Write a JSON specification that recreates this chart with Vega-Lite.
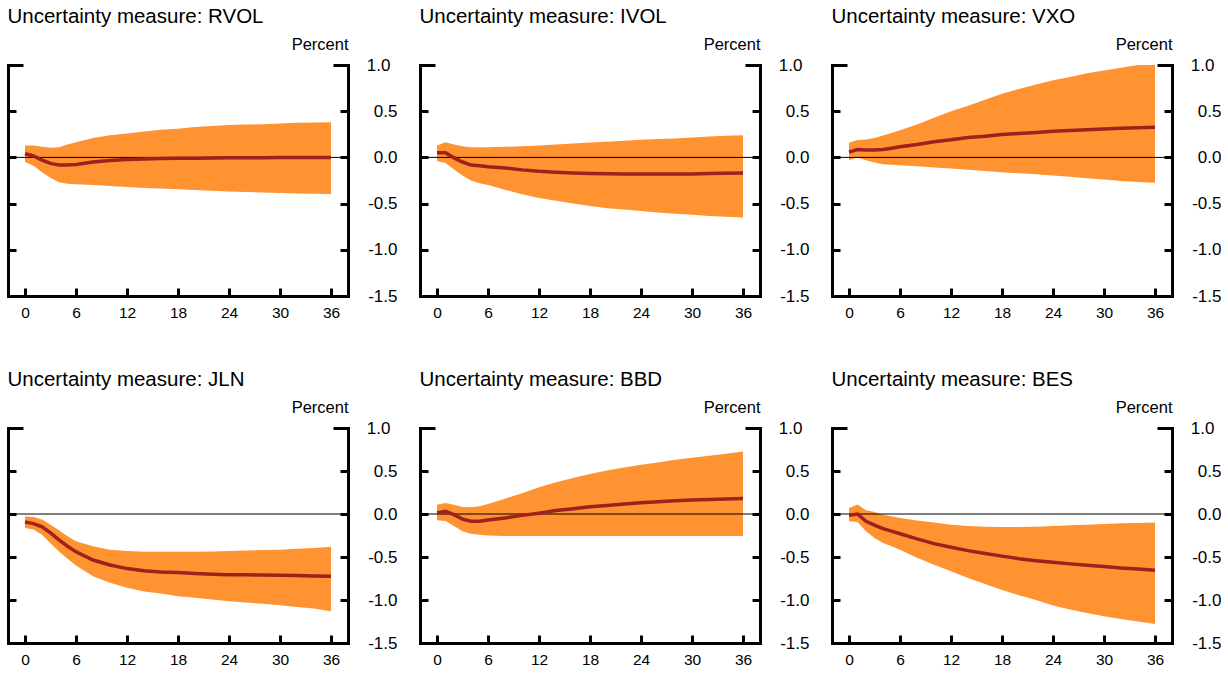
{
  "$schema": "https://vega.github.io/schema/vega-lite/v6.json",
  "padding": {"left": 6, "top": 6, "right": 0, "bottom": 0},
  "background": "white",
  "data": {"name": "irf"},
  "datasets": {
    "irf": [
      {"p": "RVOL", "m": 0, "mean": 0.04, "lo": -0.05, "hi": 0.13},
      {"p": "RVOL", "m": 1, "mean": 0.015, "lo": -0.09, "hi": 0.13},
      {"p": "RVOL", "m": 2, "mean": -0.03, "lo": -0.16, "hi": 0.115},
      {"p": "RVOL", "m": 3, "mean": -0.065, "lo": -0.22, "hi": 0.105},
      {"p": "RVOL", "m": 4, "mean": -0.083, "lo": -0.27, "hi": 0.11},
      {"p": "RVOL", "m": 5, "mean": -0.083, "lo": -0.285, "hi": 0.14},
      {"p": "RVOL", "m": 6, "mean": -0.076, "lo": -0.29, "hi": 0.165},
      {"p": "RVOL", "m": 8, "mean": -0.05, "lo": -0.3, "hi": 0.21},
      {"p": "RVOL", "m": 10, "mean": -0.033, "lo": -0.31, "hi": 0.24},
      {"p": "RVOL", "m": 12, "mean": -0.022, "lo": -0.32, "hi": 0.26},
      {"p": "RVOL", "m": 14, "mean": -0.016, "lo": -0.33, "hi": 0.28},
      {"p": "RVOL", "m": 16, "mean": -0.012, "lo": -0.337, "hi": 0.3},
      {"p": "RVOL", "m": 18, "mean": -0.01, "lo": -0.345, "hi": 0.31},
      {"p": "RVOL", "m": 20, "mean": -0.008, "lo": -0.352, "hi": 0.33},
      {"p": "RVOL", "m": 22, "mean": -0.006, "lo": -0.36, "hi": 0.34},
      {"p": "RVOL", "m": 24, "mean": -0.005, "lo": -0.37, "hi": 0.35},
      {"p": "RVOL", "m": 26, "mean": -0.004, "lo": -0.375, "hi": 0.355},
      {"p": "RVOL", "m": 28, "mean": -0.003, "lo": -0.38, "hi": 0.36},
      {"p": "RVOL", "m": 30, "mean": -0.002, "lo": -0.385, "hi": 0.368},
      {"p": "RVOL", "m": 32, "mean": -0.001, "lo": -0.39, "hi": 0.375},
      {"p": "RVOL", "m": 34, "mean": 0.0, "lo": -0.393, "hi": 0.378},
      {"p": "RVOL", "m": 36, "mean": 0.0, "lo": -0.395, "hi": 0.38},

      {"p": "IVOL", "m": 0, "mean": 0.05, "lo": -0.04, "hi": 0.13},
      {"p": "IVOL", "m": 1, "mean": 0.05, "lo": -0.06, "hi": 0.165},
      {"p": "IVOL", "m": 2, "mean": -0.005, "lo": -0.13, "hi": 0.14},
      {"p": "IVOL", "m": 3, "mean": -0.05, "lo": -0.195, "hi": 0.12},
      {"p": "IVOL", "m": 4, "mean": -0.083, "lo": -0.25, "hi": 0.11},
      {"p": "IVOL", "m": 5, "mean": -0.09, "lo": -0.28, "hi": 0.11},
      {"p": "IVOL", "m": 6, "mean": -0.1, "lo": -0.3, "hi": 0.11},
      {"p": "IVOL", "m": 8, "mean": -0.115, "lo": -0.35, "hi": 0.115},
      {"p": "IVOL", "m": 10, "mean": -0.135, "lo": -0.4, "hi": 0.12},
      {"p": "IVOL", "m": 12, "mean": -0.15, "lo": -0.44, "hi": 0.13},
      {"p": "IVOL", "m": 14, "mean": -0.16, "lo": -0.47, "hi": 0.14},
      {"p": "IVOL", "m": 16, "mean": -0.168, "lo": -0.5, "hi": 0.15},
      {"p": "IVOL", "m": 18, "mean": -0.175, "lo": -0.525, "hi": 0.16},
      {"p": "IVOL", "m": 20, "mean": -0.178, "lo": -0.55, "hi": 0.17},
      {"p": "IVOL", "m": 22, "mean": -0.18, "lo": -0.565, "hi": 0.18},
      {"p": "IVOL", "m": 24, "mean": -0.18, "lo": -0.58, "hi": 0.19},
      {"p": "IVOL", "m": 26, "mean": -0.18, "lo": -0.595, "hi": 0.2},
      {"p": "IVOL", "m": 28, "mean": -0.18, "lo": -0.61, "hi": 0.205},
      {"p": "IVOL", "m": 30, "mean": -0.18, "lo": -0.62, "hi": 0.215},
      {"p": "IVOL", "m": 32, "mean": -0.175, "lo": -0.635, "hi": 0.225},
      {"p": "IVOL", "m": 34, "mean": -0.172, "lo": -0.643, "hi": 0.233},
      {"p": "IVOL", "m": 36, "mean": -0.17, "lo": -0.65, "hi": 0.24},

      {"p": "VXO", "m": 0, "mean": 0.057, "lo": -0.03, "hi": 0.158},
      {"p": "VXO", "m": 1, "mean": 0.085, "lo": 0.0, "hi": 0.187},
      {"p": "VXO", "m": 2, "mean": 0.08, "lo": -0.03, "hi": 0.195},
      {"p": "VXO", "m": 3, "mean": 0.08, "lo": -0.055, "hi": 0.21},
      {"p": "VXO", "m": 4, "mean": 0.085, "lo": -0.075, "hi": 0.237},
      {"p": "VXO", "m": 5, "mean": 0.1, "lo": -0.08, "hi": 0.265},
      {"p": "VXO", "m": 6, "mean": 0.115, "lo": -0.085, "hi": 0.295},
      {"p": "VXO", "m": 8, "mean": 0.14, "lo": -0.095, "hi": 0.355},
      {"p": "VXO", "m": 10, "mean": 0.17, "lo": -0.108, "hi": 0.43},
      {"p": "VXO", "m": 12, "mean": 0.19, "lo": -0.12, "hi": 0.5},
      {"p": "VXO", "m": 14, "mean": 0.215, "lo": -0.133, "hi": 0.56},
      {"p": "VXO", "m": 16, "mean": 0.23, "lo": -0.147, "hi": 0.625},
      {"p": "VXO", "m": 18, "mean": 0.247, "lo": -0.16, "hi": 0.69},
      {"p": "VXO", "m": 20, "mean": 0.258, "lo": -0.172, "hi": 0.74},
      {"p": "VXO", "m": 22, "mean": 0.27, "lo": -0.183, "hi": 0.79},
      {"p": "VXO", "m": 24, "mean": 0.283, "lo": -0.195, "hi": 0.835},
      {"p": "VXO", "m": 26, "mean": 0.29, "lo": -0.21, "hi": 0.87},
      {"p": "VXO", "m": 28, "mean": 0.3, "lo": -0.225, "hi": 0.91},
      {"p": "VXO", "m": 30, "mean": 0.308, "lo": -0.24, "hi": 0.94},
      {"p": "VXO", "m": 32, "mean": 0.315, "lo": -0.255, "hi": 0.97},
      {"p": "VXO", "m": 34, "mean": 0.32, "lo": -0.265, "hi": 1.0},
      {"p": "VXO", "m": 36, "mean": 0.325, "lo": -0.275, "hi": 1.0},

      {"p": "JLN", "m": 0, "mean": -0.093, "lo": -0.163, "hi": -0.03},
      {"p": "JLN", "m": 1, "mean": -0.112, "lo": -0.18, "hi": -0.035},
      {"p": "JLN", "m": 2, "mean": -0.15, "lo": -0.24, "hi": -0.065},
      {"p": "JLN", "m": 3, "mean": -0.22, "lo": -0.34, "hi": -0.125},
      {"p": "JLN", "m": 4, "mean": -0.3, "lo": -0.435, "hi": -0.19},
      {"p": "JLN", "m": 5, "mean": -0.375, "lo": -0.52, "hi": -0.26},
      {"p": "JLN", "m": 6, "mean": -0.44, "lo": -0.6, "hi": -0.317},
      {"p": "JLN", "m": 8, "mean": -0.535, "lo": -0.725, "hi": -0.375},
      {"p": "JLN", "m": 10, "mean": -0.593, "lo": -0.8, "hi": -0.415},
      {"p": "JLN", "m": 12, "mean": -0.635, "lo": -0.858, "hi": -0.43},
      {"p": "JLN", "m": 14, "mean": -0.66, "lo": -0.9, "hi": -0.44},
      {"p": "JLN", "m": 16, "mean": -0.675, "lo": -0.925, "hi": -0.44},
      {"p": "JLN", "m": 18, "mean": -0.68, "lo": -0.955, "hi": -0.44},
      {"p": "JLN", "m": 20, "mean": -0.692, "lo": -0.975, "hi": -0.44},
      {"p": "JLN", "m": 22, "mean": -0.7, "lo": -0.995, "hi": -0.435},
      {"p": "JLN", "m": 24, "mean": -0.705, "lo": -1.015, "hi": -0.43},
      {"p": "JLN", "m": 26, "mean": -0.707, "lo": -1.03, "hi": -0.425},
      {"p": "JLN", "m": 28, "mean": -0.71, "lo": -1.045, "hi": -0.42},
      {"p": "JLN", "m": 30, "mean": -0.712, "lo": -1.06, "hi": -0.415},
      {"p": "JLN", "m": 32, "mean": -0.715, "lo": -1.08, "hi": -0.405},
      {"p": "JLN", "m": 34, "mean": -0.72, "lo": -1.1, "hi": -0.395},
      {"p": "JLN", "m": 36, "mean": -0.725, "lo": -1.13, "hi": -0.38},

      {"p": "BBD", "m": 0, "mean": 0.012, "lo": -0.073, "hi": 0.108},
      {"p": "BBD", "m": 1, "mean": 0.031, "lo": -0.08, "hi": 0.128},
      {"p": "BBD", "m": 2, "mean": -0.008, "lo": -0.14, "hi": 0.108},
      {"p": "BBD", "m": 3, "mean": -0.06, "lo": -0.2, "hi": 0.08},
      {"p": "BBD", "m": 4, "mean": -0.085, "lo": -0.23, "hi": 0.078},
      {"p": "BBD", "m": 5, "mean": -0.085, "lo": -0.24, "hi": 0.09},
      {"p": "BBD", "m": 6, "mean": -0.07, "lo": -0.25, "hi": 0.116},
      {"p": "BBD", "m": 8, "mean": -0.047, "lo": -0.257, "hi": 0.178},
      {"p": "BBD", "m": 10, "mean": -0.016, "lo": -0.257, "hi": 0.24},
      {"p": "BBD", "m": 12, "mean": 0.01, "lo": -0.257, "hi": 0.31},
      {"p": "BBD", "m": 14, "mean": 0.04, "lo": -0.257, "hi": 0.37},
      {"p": "BBD", "m": 16, "mean": 0.062, "lo": -0.257, "hi": 0.418},
      {"p": "BBD", "m": 18, "mean": 0.085, "lo": -0.257, "hi": 0.465},
      {"p": "BBD", "m": 20, "mean": 0.1, "lo": -0.257, "hi": 0.507},
      {"p": "BBD", "m": 22, "mean": 0.115, "lo": -0.257, "hi": 0.54},
      {"p": "BBD", "m": 24, "mean": 0.13, "lo": -0.257, "hi": 0.573},
      {"p": "BBD", "m": 26, "mean": 0.143, "lo": -0.257, "hi": 0.6},
      {"p": "BBD", "m": 28, "mean": 0.155, "lo": -0.257, "hi": 0.63},
      {"p": "BBD", "m": 30, "mean": 0.163, "lo": -0.257, "hi": 0.655},
      {"p": "BBD", "m": 32, "mean": 0.17, "lo": -0.257, "hi": 0.677},
      {"p": "BBD", "m": 34, "mean": 0.175, "lo": -0.257, "hi": 0.7},
      {"p": "BBD", "m": 36, "mean": 0.18, "lo": -0.257, "hi": 0.727},

      {"p": "BES", "m": 0, "mean": -0.015, "lo": -0.085, "hi": 0.07},
      {"p": "BES", "m": 1, "mean": 0.0, "lo": -0.093, "hi": 0.11},
      {"p": "BES", "m": 2, "mean": -0.085, "lo": -0.2, "hi": 0.043},
      {"p": "BES", "m": 3, "mean": -0.13, "lo": -0.28, "hi": 0.024},
      {"p": "BES", "m": 4, "mean": -0.17, "lo": -0.337, "hi": -0.008},
      {"p": "BES", "m": 5, "mean": -0.2, "lo": -0.376, "hi": -0.027},
      {"p": "BES", "m": 6, "mean": -0.23, "lo": -0.415, "hi": -0.046},
      {"p": "BES", "m": 8, "mean": -0.29, "lo": -0.51, "hi": -0.077},
      {"p": "BES", "m": 10, "mean": -0.345, "lo": -0.59, "hi": -0.1},
      {"p": "BES", "m": 12, "mean": -0.387, "lo": -0.667, "hi": -0.124},
      {"p": "BES", "m": 14, "mean": -0.426, "lo": -0.744, "hi": -0.139},
      {"p": "BES", "m": 16, "mean": -0.46, "lo": -0.814, "hi": -0.147},
      {"p": "BES", "m": 18, "mean": -0.49, "lo": -0.884, "hi": -0.15},
      {"p": "BES", "m": 20, "mean": -0.52, "lo": -0.946, "hi": -0.15},
      {"p": "BES", "m": 22, "mean": -0.543, "lo": -1.0, "hi": -0.148},
      {"p": "BES", "m": 24, "mean": -0.562, "lo": -1.065, "hi": -0.139},
      {"p": "BES", "m": 26, "mean": -0.58, "lo": -1.11, "hi": -0.132},
      {"p": "BES", "m": 28, "mean": -0.597, "lo": -1.15, "hi": -0.124},
      {"p": "BES", "m": 30, "mean": -0.61, "lo": -1.19, "hi": -0.116},
      {"p": "BES", "m": 32, "mean": -0.628, "lo": -1.22, "hi": -0.108},
      {"p": "BES", "m": 34, "mean": -0.64, "lo": -1.25, "hi": -0.104},
      {"p": "BES", "m": 36, "mean": -0.655, "lo": -1.28, "hi": -0.1}
    ]
  },
  "spacing": 48,
  "vconcat": [
    {
      "spacing": 21,
      "hconcat": [
        {
          "title": "Uncertainty measure: RVOL",
          "width": 340, "height": 231,
          "transform": [{"filter": "datum.p == 'RVOL'"}],
          "layer": [
            {"mark": {"type": "area", "color": "#FF9331", "opacity": 1},
             "encoding": {
               "x": {"field": "m", "type": "quantitative", "scale": {"domain": [-2, 38], "nice": false},
                     "axis": {"values": [0, 6, 12, 18, 24, 30, 36], "title": null}},
               "y": {"field": "lo", "type": "quantitative", "scale": {"domain": [-1.5, 1.0], "nice": false},
                     "axis": {"orient": "left", "labels": false, "title": null, "values": [-1.5, -1, -0.5, 0, 0.5, 1]}},
               "y2": {"field": "hi"}}},
            {"data": {"values": [{"z": 0}]}, "mark": {"type": "rule", "color": "black", "strokeWidth": 1},
             "encoding": {"y": {"field": "z", "type": "quantitative", "axis": null}}},
            {"mark": {"type": "line", "color": "#A0201E", "strokeWidth": 3.5},
             "encoding": {
               "x": {"field": "m", "type": "quantitative"},
               "y": {"field": "mean", "type": "quantitative",
                     "axis": {"orient": "right", "title": "Percent", "values": [-1.5, -1, -0.5, 0, 0.5, 1]}}}}
          ],
          "resolve": {"axis": {"y": "independent"}}
        },
        {
          "title": "Uncertainty measure: IVOL",
          "width": 340, "height": 231,
          "transform": [{"filter": "datum.p == 'IVOL'"}],
          "layer": [
            {"mark": {"type": "area", "color": "#FF9331", "opacity": 1},
             "encoding": {
               "x": {"field": "m", "type": "quantitative", "scale": {"domain": [-2, 38], "nice": false},
                     "axis": {"values": [0, 6, 12, 18, 24, 30, 36], "title": null}},
               "y": {"field": "lo", "type": "quantitative", "scale": {"domain": [-1.5, 1.0], "nice": false},
                     "axis": {"orient": "left", "labels": false, "title": null, "values": [-1.5, -1, -0.5, 0, 0.5, 1]}},
               "y2": {"field": "hi"}}},
            {"data": {"values": [{"z": 0}]}, "mark": {"type": "rule", "color": "black", "strokeWidth": 1},
             "encoding": {"y": {"field": "z", "type": "quantitative", "axis": null}}},
            {"mark": {"type": "line", "color": "#A0201E", "strokeWidth": 3.5},
             "encoding": {
               "x": {"field": "m", "type": "quantitative"},
               "y": {"field": "mean", "type": "quantitative",
                     "axis": {"orient": "right", "title": "Percent", "values": [-1.5, -1, -0.5, 0, 0.5, 1]}}}}
          ],
          "resolve": {"axis": {"y": "independent"}}
        },
        {
          "title": "Uncertainty measure: VXO",
          "width": 340, "height": 231,
          "transform": [{"filter": "datum.p == 'VXO'"}],
          "layer": [
            {"mark": {"type": "area", "color": "#FF9331", "opacity": 1},
             "encoding": {
               "x": {"field": "m", "type": "quantitative", "scale": {"domain": [-2, 38], "nice": false},
                     "axis": {"values": [0, 6, 12, 18, 24, 30, 36], "title": null}},
               "y": {"field": "lo", "type": "quantitative", "scale": {"domain": [-1.5, 1.0], "nice": false},
                     "axis": {"orient": "left", "labels": false, "title": null, "values": [-1.5, -1, -0.5, 0, 0.5, 1]}},
               "y2": {"field": "hi"}}},
            {"data": {"values": [{"z": 0}]}, "mark": {"type": "rule", "color": "black", "strokeWidth": 1},
             "encoding": {"y": {"field": "z", "type": "quantitative", "axis": null}}},
            {"mark": {"type": "line", "color": "#A0201E", "strokeWidth": 3.5},
             "encoding": {
               "x": {"field": "m", "type": "quantitative"},
               "y": {"field": "mean", "type": "quantitative",
                     "axis": {"orient": "right", "title": "Percent", "values": [-1.5, -1, -0.5, 0, 0.5, 1]}}}}
          ],
          "resolve": {"axis": {"y": "independent"}}
        }
      ]
    },
    {
      "spacing": 21,
      "hconcat": [
        {
          "title": "Uncertainty measure: JLN",
          "width": 340, "height": 215,
          "transform": [{"filter": "datum.p == 'JLN'"}],
          "layer": [
            {"mark": {"type": "area", "color": "#FF9331", "opacity": 1},
             "encoding": {
               "x": {"field": "m", "type": "quantitative", "scale": {"domain": [-2, 38], "nice": false},
                     "axis": {"values": [0, 6, 12, 18, 24, 30, 36], "title": null}},
               "y": {"field": "lo", "type": "quantitative", "scale": {"domain": [-1.5, 1.0], "nice": false},
                     "axis": {"orient": "left", "labels": false, "title": null, "values": [-1.5, -1, -0.5, 0, 0.5, 1]}},
               "y2": {"field": "hi"}}},
            {"data": {"values": [{"z": 0}]}, "mark": {"type": "rule", "color": "black", "strokeWidth": 1},
             "encoding": {"y": {"field": "z", "type": "quantitative", "axis": null}}},
            {"mark": {"type": "line", "color": "#A0201E", "strokeWidth": 3.5},
             "encoding": {
               "x": {"field": "m", "type": "quantitative"},
               "y": {"field": "mean", "type": "quantitative",
                     "axis": {"orient": "right", "title": "Percent", "values": [-1.5, -1, -0.5, 0, 0.5, 1]}}}}
          ],
          "resolve": {"axis": {"y": "independent"}}
        },
        {
          "title": "Uncertainty measure: BBD",
          "width": 340, "height": 215,
          "transform": [{"filter": "datum.p == 'BBD'"}],
          "layer": [
            {"mark": {"type": "area", "color": "#FF9331", "opacity": 1},
             "encoding": {
               "x": {"field": "m", "type": "quantitative", "scale": {"domain": [-2, 38], "nice": false},
                     "axis": {"values": [0, 6, 12, 18, 24, 30, 36], "title": null}},
               "y": {"field": "lo", "type": "quantitative", "scale": {"domain": [-1.5, 1.0], "nice": false},
                     "axis": {"orient": "left", "labels": false, "title": null, "values": [-1.5, -1, -0.5, 0, 0.5, 1]}},
               "y2": {"field": "hi"}}},
            {"data": {"values": [{"z": 0}]}, "mark": {"type": "rule", "color": "black", "strokeWidth": 1},
             "encoding": {"y": {"field": "z", "type": "quantitative", "axis": null}}},
            {"mark": {"type": "line", "color": "#A0201E", "strokeWidth": 3.5},
             "encoding": {
               "x": {"field": "m", "type": "quantitative"},
               "y": {"field": "mean", "type": "quantitative",
                     "axis": {"orient": "right", "title": "Percent", "values": [-1.5, -1, -0.5, 0, 0.5, 1]}}}}
          ],
          "resolve": {"axis": {"y": "independent"}}
        },
        {
          "title": "Uncertainty measure: BES",
          "width": 340, "height": 215,
          "transform": [{"filter": "datum.p == 'BES'"}],
          "layer": [
            {"mark": {"type": "area", "color": "#FF9331", "opacity": 1},
             "encoding": {
               "x": {"field": "m", "type": "quantitative", "scale": {"domain": [-2, 38], "nice": false},
                     "axis": {"values": [0, 6, 12, 18, 24, 30, 36], "title": null}},
               "y": {"field": "lo", "type": "quantitative", "scale": {"domain": [-1.5, 1.0], "nice": false},
                     "axis": {"orient": "left", "labels": false, "title": null, "values": [-1.5, -1, -0.5, 0, 0.5, 1]}},
               "y2": {"field": "hi"}}},
            {"data": {"values": [{"z": 0}]}, "mark": {"type": "rule", "color": "black", "strokeWidth": 1},
             "encoding": {"y": {"field": "z", "type": "quantitative", "axis": null}}},
            {"mark": {"type": "line", "color": "#A0201E", "strokeWidth": 3.5},
             "encoding": {
               "x": {"field": "m", "type": "quantitative"},
               "y": {"field": "mean", "type": "quantitative",
                     "axis": {"orient": "right", "title": "Percent", "values": [-1.5, -1, -0.5, 0, 0.5, 1]}}}}
          ],
          "resolve": {"axis": {"y": "independent"}}
        }
      ]
    }
  ],
  "config": {
    "font": "Liberation Sans",
    "view": {"stroke": null},
    "title": {"fontSize": 20.5, "fontWeight": "normal", "anchor": "start", "color": "black", "font": "Liberation Sans", "baseline": "alphabetic", "offset": 9, "dx": 1},
    "axis": {
      "grid": false,
      "domainColor": "black", "domainWidth": 3, "domainCap": "square",
      "tickColor": "black", "tickWidth": 3,
      "tickSize": {"condition": {"test": "datum.value == 1", "value": -15}, "value": -8},
      "labelFont": "Liberation Sans", "labelColor": "black", "labelFontSize": 17
    },
    "axisX": {"tickSize": -8, "labelPadding": 17, "labelFontSize": 15.5},
    "axisRight": {
      "labelAlign": "right", "labelPadding": 57, "labelBaseline": "middle",
      "labelExpr": "replace(format(datum.value, '.1f'), '\u2212', '-')",
      "titleAngle": 0, "titleX": 0, "titleY": -21, "titleAlign": "right", "titleBaseline": "middle",
      "titleFont": "Liberation Sans", "titleFontSize": 16.5, "titleFontWeight": "normal", "titleColor": "black"
    }
  }
}
